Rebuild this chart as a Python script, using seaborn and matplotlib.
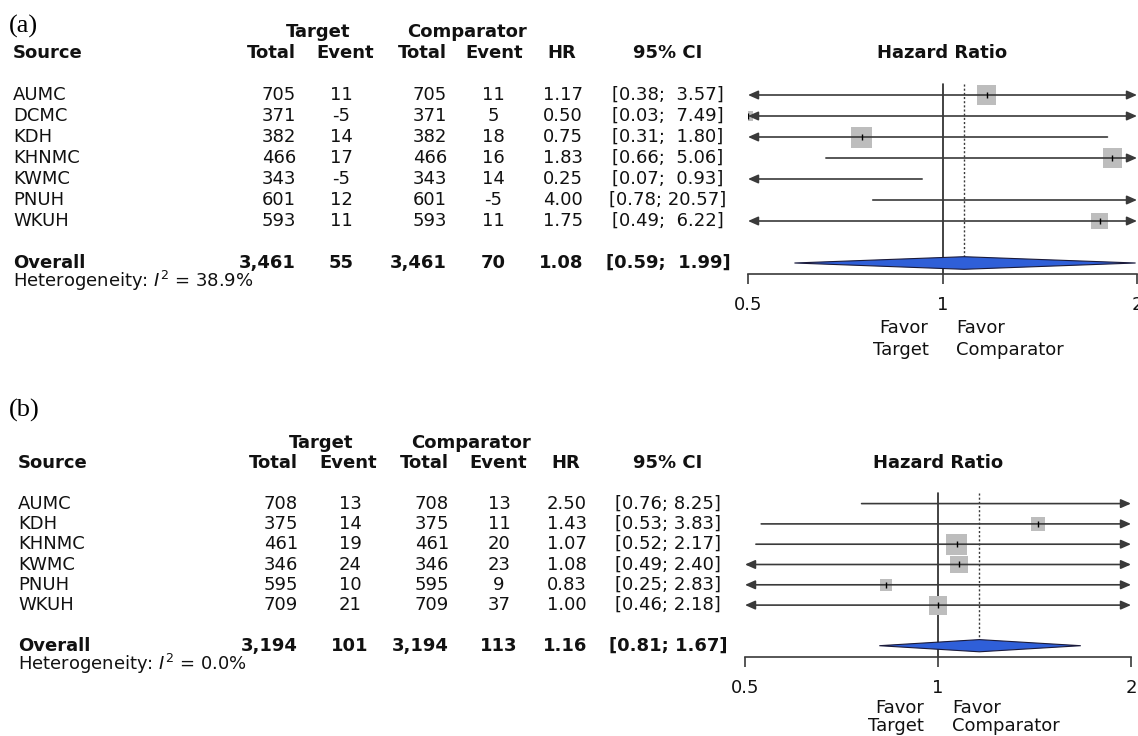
import matplotlib
matplotlib.use("Agg")
import matplotlib.pyplot as plt
import seaborn as sns
import pandas as pd

# ---- panel (a) data ----
a_source = ["AUMC", "DCMC", "KDH", "KHNMC", "KWMC", "PNUH", "WKUH"]
a_tgt_total = [705, 371, 382, 466, 343, 601, 593]
a_tgt_event = [11, -5, 14, 17, -5, 12, 11]
a_cmp_total = [705, 371, 382, 466, 343, 601, 593]
a_cmp_event = [11, 5, 18, 16, 14, -5, 11]
a_hr = [1.17, 0.50, 0.75, 1.83, 0.25, 4.00, 1.75]
a_lo = [0.38, 0.03, 0.31, 0.66, 0.07, 0.78, 0.49]
a_hi = [3.57, 7.49, 1.80, 5.06, 0.93, 20.57, 6.22]
a_weight = [17.8, 4.0, 21.7, 17.8, 14.8, 9.8, 14.2]
a_overall = [3461, 55, 3461, 70, 1.08, 0.59, 1.99]
a_i2 = 38.9

# ---- panel (b) data ----
b_source = ["AUMC", "KDH", "KHNMC", "KWMC", "PNUH", "WKUH"]
b_tgt_total = [708, 375, 461, 346, 595, 709]
b_tgt_event = [13, 14, 19, 24, 10, 21]
b_cmp_total = [708, 375, 461, 346, 595, 709]
b_cmp_event = [13, 11, 20, 23, 9, 37]
b_hr = [2.50, 1.43, 1.07, 1.08, 0.83, 1.00]
b_lo = [0.76, 0.53, 0.52, 0.49, 0.25, 0.46]
b_hi = [8.25, 3.83, 2.17, 2.40, 2.83, 2.18]
b_weight = [9.3, 12.1, 27.3, 20.0, 8.9, 22.3]
b_overall = [3194, 101, 3194, 113, 1.16, 0.81, 1.67]
b_i2 = 0.0

sns.set_theme(style="white")
plt.rcParams["font.family"] = ["DejaVu Sans"]
plt.rcParams["mathtext.fontset"] = "dejavusans"

W, H = 1138, 736
FS = 13
TXT = "#111111"
LINE = "#3a3a3a"
BLUE = "#2f5fd8"
SQ = 21 * 0.72  # side of the biggest square, points

fig = plt.figure(figsize=(W / 100, H / 100), dpi=100)
bg = fig.add_axes([0, 0, 1, 1])
bg.set_xlim(0, W)
bg.set_ylim(H, 0)
bg.axis("off")


def txt(x, y, s, ha="left", bold=False, **kw):
    bg.text(x, y, s, ha=ha, va="center", fontsize=FS, color=TXT,
            fontweight="bold" if bold else "normal", **kw)


def draw_panel(label, src, tt, te, ct, ce, hr, lo, hi, wt, ov, i2, lay):
    y0, u = lay["y_src"], lay["unit"]
    n = len(src)
    ys = [y0 + u * (2 + i) for i in range(n)]
    y_ov = y0 + u * (n + 3)
    axis_y = y_ov + 11
    top = y0 + u
    c = lay["cols"]
    one_px = (lay["f_left"] + lay["f_right"]) / 2

    bg.text(9, lay["label_y"], label, ha="left", va="center", fontsize=19,
            family="Liberation Serif", color="black")

    # headers
    txt(c["tgt_h"], y0 - u, "Target", ha="center", bold=True)
    txt(c["cmp_h"], y0 - u, "Comparator", ha="center", bold=True)
    txt(c["src"], y0, "Source", bold=True)
    txt(c["tt"], y0, "Total", ha="right", bold=True)
    txt(c["te_h"], y0, "Event", ha="center", bold=True)
    txt(c["ct"], y0, "Total", ha="right", bold=True)
    txt(c["ce_h"], y0, "Event", ha="center", bold=True)
    txt(c["hr_h"], y0, "HR", ha="center", bold=True)
    txt(c["ci"], y0, "95% CI", ha="center", bold=True)
    txt(one_px, y0, "Hazard Ratio", ha="center", bold=True)

    w = max(len(f"{v:.2f}") for v in hi + [ov[6]])
    for i in range(n):
        y = ys[i]
        txt(c["src"], y, src[i])
        txt(c["tt"], y, f"{tt[i]}", ha="right")
        txt(c["te"], y, f"{te[i]}", ha="center")
        txt(c["ct"], y, f"{ct[i]}", ha="right")
        txt(c["ce"], y, f"{ce[i]}", ha="center")
        txt(c["hr"], y, f"{hr[i]:.2f}", ha="right")
        txt(c["ci"], y, f"[{lo[i]:.2f}; {hi[i]:>{w}.2f}]", ha="center")

    txt(c["src"], y_ov, "Overall", bold=True)
    txt(c["tt"], y_ov, f"{ov[0]:,}", ha="right", bold=True)
    txt(c["te"], y_ov, f"{ov[1]}", ha="center", bold=True)
    txt(c["ct"], y_ov, f"{ov[2]:,}", ha="right", bold=True)
    txt(c["ce"], y_ov, f"{ov[3]}", ha="center", bold=True)
    txt(c["hr"], y_ov, f"{ov[4]:.2f}", ha="right", bold=True)
    txt(c["ci"], y_ov, f"[{ov[5]:.2f}; {ov[6]:>{w}.2f}]", ha="center", bold=True)
    txt(c["src"], y_ov + 18, rf"Heterogeneity: $I^2$ = {i2:.1f}%")

    # forest part
    ax = fig.add_axes([lay["f_left"] / W, 1 - axis_y / H,
                       (lay["f_right"] - lay["f_left"]) / W, (axis_y - top) / H])
    ax.set_facecolor("none")
    ax.set_xscale("log")

    df = pd.DataFrame({"hr": hr, "y": ys, "w": wt})
    sns.scatterplot(data=df, x="hr", y="y", size="w", sizes=(0, SQ ** 2),
                    size_norm=(0, max(wt)), marker="s", color="#bdbdbd",
                    linewidth=0, legend=False, ax=ax, zorder=2)
    ax.plot(hr, ys, ls="none", marker="|", ms=4, mew=1, color="black", zorder=4)

    for i in range(n):
        x0, x1 = max(lo[i], 0.5), min(hi[i], 2)
        if x0 >= x1:
            continue
        la, ra = lo[i] < 0.5, hi[i] > 2
        if not la and not ra:
            ax.plot([x0, x1], [ys[i]] * 2, color=LINE, lw=1.2, zorder=3)
            continue
        style = {(True, False): "<|-", (False, True): "-|>", (True, True): "<|-|>"}[(la, ra)]
        ax.annotate("", xy=(x1, ys[i]), xytext=(x0, ys[i]), annotation_clip=False,
                    arrowprops=dict(arrowstyle=style + ",head_length=0.5,head_width=0.22",
                                    color=LINE, lw=1.2, shrinkA=0, shrinkB=0,
                                    mutation_scale=12), zorder=3)

    h = 0.3 * u
    ax.fill([ov[5], ov[4], ov[6], ov[4]], [y_ov, y_ov - h, y_ov, y_ov + h],
            facecolor=BLUE, edgecolor="#1a1a3a", lw=0.8, zorder=4)
    ax.plot([1, 1], [y0 + 1.5 * u, axis_y], color="#222222", lw=1.2, zorder=1)
    ax.plot([ov[4]] * 2, [y0 + 1.5 * u, y_ov - h], color=LINE, lw=1.0,
            ls=(0, (1.5, 1.5)), zorder=1)

    ax.set_xlim(0.5, 2)
    ax.set_ylim(axis_y, top)
    for s in ["top", "left", "right"]:
        ax.spines[s].set_visible(False)
    ax.spines["bottom"].set_color(LINE)
    ax.spines["bottom"].set_linewidth(1.2)
    ax.set_xticks([0.5, 1, 2])
    ax.set_xticklabels(["0.5", "1", "2"])
    ax.xaxis.set_minor_locator(matplotlib.ticker.NullLocator())
    ax.tick_params(axis="x", bottom=True, direction="out", length=7, width=1.2,
                   color=LINE, pad=9, labelsize=FS, labelcolor=TXT)
    ax.set_yticks([])
    ax.set_xlabel("")
    ax.set_ylabel("")

    txt(one_px - 14, axis_y + lay["fav1"], "Favor", ha="right")
    txt(one_px - 14, axis_y + lay["fav2"], "Target", ha="right")
    txt(one_px + 14, axis_y + lay["fav1"], "Favor")
    txt(one_px + 14, axis_y + lay["fav2"], "Comparator")


lay_a = dict(label_y=26, y_src=53, unit=21, f_left=748, f_right=1137, fav1=54, fav2=76,
             cols=dict(src=13, tt=296, te=341, ct=447, ce=493, hr=583, ci=668,
                       tgt_h=318, cmp_h=467, te_h=345, ce_h=494, hr_h=562))
lay_b = dict(label_y=410, y_src=463, unit=20.3, f_left=745, f_right=1131, fav1=51, fav2=69,
             cols=dict(src=18, tt=298, te=350, ct=449, ce=499, hr=587, ci=668,
                       tgt_h=321, cmp_h=471, te_h=348, ce_h=498, hr_h=566))

draw_panel("(a)", a_source, a_tgt_total, a_tgt_event, a_cmp_total, a_cmp_event,
           a_hr, a_lo, a_hi, a_weight, a_overall, a_i2, lay_a)
draw_panel("(b)", b_source, b_tgt_total, b_tgt_event, b_cmp_total, b_cmp_event,
           b_hr, b_lo, b_hi, b_weight, b_overall, b_i2, lay_b)

fig.savefig("out.png", dpi=100)
